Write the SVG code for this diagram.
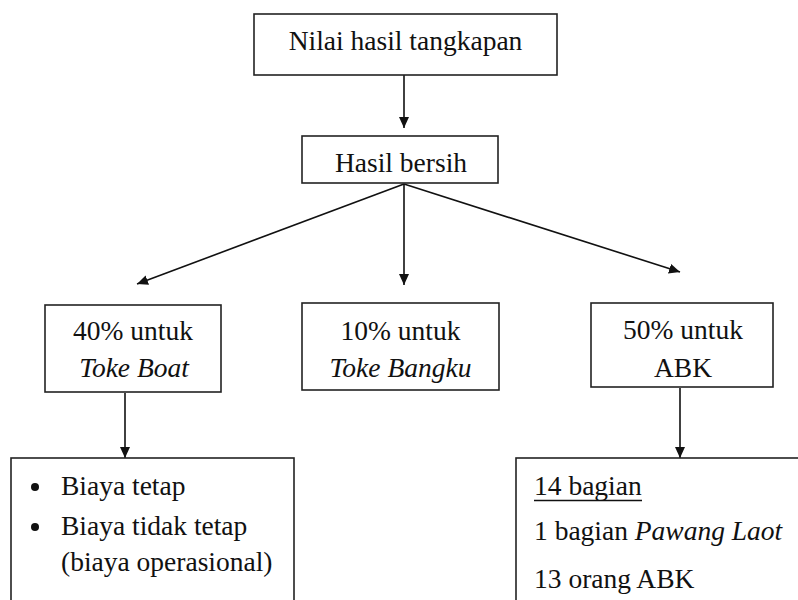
<svg xmlns="http://www.w3.org/2000/svg" width="798" height="600" viewBox="0 0 798 600">
<style>
.box{fill:#fff;stroke:#222;stroke-width:1.6}
.t{font-family:'Liberation Serif','Times New Roman',Tinos,'DejaVu Serif','Noto Serif',serif;font-size:27.5px;fill:#111}
.c{text-anchor:middle}
.i{font-style:italic}
.ln{stroke:#111;stroke-width:1.6;fill:none}
</style>
<defs>
<marker id="ah" markerUnits="userSpaceOnUse" markerWidth="12" markerHeight="11" refX="11" refY="5" orient="auto">
<path d="M0,0 L11,5 L0,10 z" fill="#111"/>
</marker>
</defs>
<rect width="798" height="600" fill="#fff"/>
<g id="connectors">
<line class="ln" x1="404" y1="75" x2="404" y2="128" marker-end="url(#ah)"/>
<line class="ln" x1="404" y1="184" x2="137" y2="284" marker-end="url(#ah)"/>
<line class="ln" x1="404" y1="184" x2="404" y2="285" marker-end="url(#ah)"/>
<line class="ln" x1="404" y1="184" x2="680" y2="272" marker-end="url(#ah)"/>
<line class="ln" x1="125" y1="393" x2="125" y2="458" marker-end="url(#ah)"/>
<line class="ln" x1="680" y1="388" x2="680" y2="458" marker-end="url(#ah)"/>
</g>
<g id="n-nilai">
<rect class="box" x="254" y="14" width="303" height="61"/>
<text class="t c" x="405.5" y="50">Nilai hasil tangkapan</text>
</g>
<g id="n-hasil">
<rect class="box" x="302" y="136" width="196" height="47"/>
<text class="t c" x="401" y="172">Hasil bersih</text>
</g>
<g id="n-40">
<rect class="box" x="45" y="305" width="176" height="87"/>
<text class="t c" x="133" y="340">40% untuk</text>
<text class="t c i" x="134" y="377">Toke Boat</text>
</g>
<g id="n-10">
<rect class="box" x="302" y="303" width="197" height="87"/>
<text class="t c" x="400.5" y="340">10% untuk</text>
<text class="t c i" x="400.5" y="377">Toke Bangku</text>
</g>
<g id="n-50">
<rect class="box" x="591" y="303" width="182" height="84"/>
<text class="t c" x="683" y="339">50% untuk</text>
<text class="t c" x="683" y="377">ABK</text>
</g>
<g id="n-biaya">
<rect class="box" x="11" y="458" width="283" height="170"/>
<circle cx="35" cy="487" r="4" fill="#111"/>
<circle cx="35" cy="527" r="4" fill="#111"/>
<text class="t" x="61" y="495">Biaya tetap</text>
<text class="t" x="61" y="535">Biaya tidak tetap</text>
<text class="t" x="61" y="571">(biaya operasional)</text>
</g>
<g id="n-abk">
<rect class="box" x="516" y="458" width="300" height="170"/>
<text class="t" x="534" y="495">14 bagian</text>
<line x1="534" y1="500.5" x2="642" y2="500.5" stroke="#111" stroke-width="1.3"/>
<text class="t" x="534" y="540">1 bagian <tspan class="i">Pawang Laot</tspan></text>
<text class="t" x="534" y="588">13 orang ABK</text>
</g>
</svg>
